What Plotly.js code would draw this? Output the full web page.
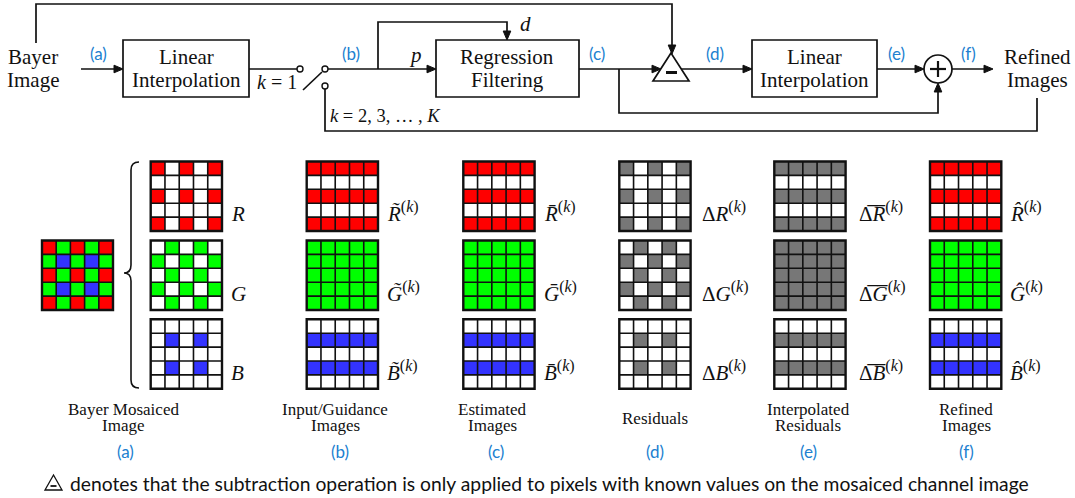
<!DOCTYPE html>
<html><head><meta charset="utf-8">
<script src="https://cdn.plot.ly/plotly-3.0.1.min.js"></script>
<style>html,body{margin:0;padding:0;background:#fff}#chart{width:1075px;height:498px}</style>
</head><body><div id="chart"></div>
<script>
// ---------- DATA ----------
// pixel patterns ('.' empty, R red, G green, B blue, X residual gray)
const mosaicPattern = ["RGRGR","GBGBG","RGRGR","GBGBG","RGRGR"];
const bayerR = ["R.R.R",".....","R.R.R",".....","R.R.R"];
const bayerG = [".G.G.","G.G.G",".G.G.","G.G.G",".G.G."];
const bayerB = [".....",".B.B.",".....",".B.B.","....."];
const inputR = ["RRRRR",".....","RRRRR",".....","RRRRR"];
const inputG = ["GGGGG","GGGGG","GGGGG","GGGGG","GGGGG"];
const inputB = [".....","BBBBB",".....","BBBBB","....."];
const estR = ["RRRRR",".....","RRRRR",".....","RRRRR"];
const estG = ["GGGGG","GGGGG","GGGGG","GGGGG","GGGGG"];
const estB = [".....","BBBBB",".....","BBBBB","....."];
const resR = ["X.X.X",".....","X.X.X",".....","X.X.X"];
const resG = [".X.X.","X.X.X",".X.X.","X.X.X",".X.X."];
const resB = [".....",".X.X.",".....",".X.X.","....."];
const intR = ["XXXXX",".....","XXXXX",".....","XXXXX"];
const intG = ["XXXXX","XXXXX","XXXXX","XXXXX","XXXXX"];
const intB = [".....","XXXXX",".....","XXXXX","....."];
const refR = ["RRRRR",".....","RRRRR",".....","RRRRR"];
const refG = ["GGGGG","GGGGG","GGGGG","GGGGG","GGGGG"];
const refB = [".....","BBBBB",".....","BBBBB","....."];
const columnPatterns = [[bayerR,bayerG,bayerB],[inputR,inputG,inputB],[estR,estG,estB],[resR,resG,resB],[intR,intG,intB],[refR,refG,refB]];

const SUPK = '<sup><span style="font-size:16px">(<i>k</i>)</span></sup>';
const labelsA = ['<i>R</i>','<i>G</i>','<i>B</i>'];
const labelsB = ['<i>R\u0303</i>','<i>G\u0303</i>','<i>B\u0303</i>'];
const labelsC = ['<i>R\u0304</i>','<i>G\u0304</i>','<i>B\u0304</i>'];
const labelsD = ['\u0394<i>R</i>','\u0394<i>G</i>','\u0394<i>B</i>'];
const labelsE = ['\u0394\u0305<i>R\u0305</i>','\u0394\u0305<i>G\u0305</i>','\u0394\u0305<i>B\u0305</i>'];
const labelsF = ['<i>R\u0302</i>','<i>G\u0302</i>','<i>B\u0302</i>'];
const columnLabels = [labelsA,labelsB,labelsC,labelsD,labelsE,labelsF];

const captionLine1 = ["Bayer Mosaiced","Input/Guidance","Estimated","Residuals","Interpolated","Refined"];
const captionLine2 = ["Image","Images","Images","","Residuals","Images"];
const stepTags = ["(a)","(b)","(c)","(d)","(e)","(f)"];

// ---------- STYLE / LAYOUT ----------
const colorOf = {'.':0,'R':1,'G':2,'B':3,'X':4};
const cscale = [[0,'#ffffff'],[0.125,'#ffffff'],[0.125,'#ff0000'],[0.375,'#ff0000'],[0.375,'#00ff00'],[0.625,'#00ff00'],[0.625,'#3333ff'],[0.875,'#3333ff'],[0.875,'#777777'],[1,'#777777']];
const colX = [150.7,306.7,463.3,619.3,774.3,930];
const rowY = [161.5,240.5,319.3];
const GW = 71.3, GH = 69.5;
const labelX = [229,385,542,700,857,1008];
const labelY = [212,292,371];
const capX = [123,335,492,655,808,966];
const tagX = [125,340,496,655,808,966];
const BLUE = '#2080d0';
const SERIF = 'Liberation Serif';
const SANS = 'Lato';

const traces = [], shapes = [], ann = [];
const LW = 1.7;

function grid(pattern, x0, y0, w, h){
  const n = pattern.length, m = pattern[0].length;
  const xs = [], ys = [];
  for(let j=0;j<m;j++) xs.push(x0+(j+0.5)*w/m);
  for(let i=0;i<n;i++) ys.push(y0+(i+0.5)*h/n);
  const z = pattern.map(r => r.split('').map(c => colorOf[c]));
  traces.push({type:'heatmap', x:xs, y:ys, z:z, zmin:0, zmax:4, colorscale:cscale, showscale:false, hoverinfo:'skip'});
  let p = '';
  for(let j=1;j<m;j++){const x=x0+j*w/m; p += `M${x},${y0} V${y0+h} `;}
  for(let i=1;i<n;i++){const y=y0+i*h/n; p += `M${x0},${y} H${x0+w} `;}
  shapes.push({type:'path', path:p, xref:'x', yref:'y', line:{color:'#111', width:1.6}, layer:'above'});
  shapes.push({type:'rect', x0:x0, x1:x0+w, y0:y0, y1:y0+h, xref:'x', yref:'y', line:{color:'#111', width:2.4}, layer:'above'});
}
grid(mosaicPattern, 42, 240.5, 71, GH);
columnPatterns.forEach((col,c) => col.forEach((pat,r) => grid(pat, colX[c], rowY[r], GW, GH)));

function txt(x,y,text,size,font,color,xa){
  ann.push({x:x,y:y,xref:'x',yref:'y',text:text,showarrow:false,xanchor:xa||'center',yanchor:'middle',
    font:{family:font,size:size,color:color||'#111'}});
}
columnLabels.forEach((labs,c)=>labs.forEach((t,r)=>txt(labelX[c], labelY[r]+(c===0?2:0), c===0?t:t+SUPK, 21, SERIF, '#111','left')));
captionLine1.forEach((t,i)=>{
  if(captionLine2[i]){ txt(capX[i],409,t,17,SERIF); txt(capX[i],425,captionLine2[i],17,SERIF); }
  else txt(capX[i],418,t,17,SERIF);
});
stepTags.forEach((t,i)=>txt(tagX[i],451,t,17,SANS,BLUE));

// brace
shapes.push({type:'path', path:'M139,162 Q131,162 131,170 L131,265 Q131,273 124,273 Q131,273 131,281 L131,380 Q131,388 139,388',
  xref:'x',yref:'y',line:{color:'#111',width:1.6},fillcolor:'rgba(0,0,0,0)'});

// ---------- FLOW DIAGRAM ----------
function path(p,w){shapes.push({type:'path',path:p,xref:'x',yref:'y',line:{color:'#111',width:w||LW},fillcolor:'rgba(0,0,0,0)'});}
function head(x,y,dir){
  const L=9,W=3.8; let p;
  if(dir==='r') p=`M${x},${y} L${x-L},${y-W} L${x-L},${y+W} Z`;
  if(dir==='d') p=`M${x},${y} L${x-W},${y-L} L${x+W},${y-L} Z`;
  if(dir==='u') p=`M${x},${y} L${x-W},${y+L} L${x+W},${y+L} Z`;
  shapes.push({type:'path',path:p,xref:'x',yref:'y',line:{color:'#111',width:1},fillcolor:'#111'});
}
function box(x0,y0,x1,y1){shapes.push({type:'rect',x0,x1,y0,y1,xref:'x',yref:'y',line:{color:'#111',width:LW}});}
function circ(cx,cy,r,w){shapes.push({type:'circle',x0:cx-r,x1:cx+r,y0:cy-r,y1:cy+r,xref:'x',yref:'y',line:{color:'#111',width:w||1.4},fillcolor:'#fff'});}

path('M36,43 V4 H672 V46'); head(672,54,'d');
path('M81,69 H116'); head(123,69,'r');
box(123,40,249,97);
path('M249,69 H297');
path('M303,90 L322,72');
path('M328,69 H429'); head(436,69,'r');
path('M378,69 V22 H507 V33'); head(507,40,'d');
box(436,40,579,97);
path('M579,69 H653'); head(661,69,'r');
path('M619,69 V113 H938 V90'); head(938,83,'u');
shapes.push({type:'path',path:'M671,53 L653,81 L689,81 Z',xref:'x',yref:'y',line:{color:'#111',width:LW},fillcolor:'#fff'});
path('M666,72.5 H677',3);
path('M681,69 H745'); head(752,69,'r');
box(752,40,877,97);
path('M877,69 H917'); head(924,69,'r');
circ(938,69,14,LW);
path('M930,69 H946',2.2); path('M938,61 V77',2.2);
path('M952,69 H986'); head(993,69,'r');
path('M1037,98 V131 H325 V89');
circ(300,69,3); circ(325,69,3); circ(325,86,3);

const FS = 21;
txt(33,57,'Bayer',FS,SERIF); txt(33,80,'Image',FS,SERIF);
txt(186,57,'Linear',FS,SERIF); txt(186,80,'Interpolation',FS,SERIF);
txt(507,57,'Regression',FS,SERIF); txt(507,80,'Filtering',FS,SERIF);
txt(814,57,'Linear',FS,SERIF); txt(814,80,'Interpolation',FS,SERIF);
txt(1037,57,'Refined',FS,SERIF); txt(1037,80,'Images',FS,SERIF);
txt(277,82,'<i>k</i> = 1',20,SERIF);
txt(385,116,'<i>k</i> = 2, 3, \u2026 , <i>K</i>',18.5,SERIF);
txt(415,55,'<i>p</i>',21,SERIF);
txt(525,24,'<i>d</i>',21,SERIF);
txt(98,53,'(a)',17,SANS,BLUE); txt(351,53,'(b)',17,SANS,BLUE); txt(597,53,'(c)',17,SANS,BLUE);
txt(715,53,'(d)',17,SANS,BLUE); txt(896,53,'(e)',17,SANS,BLUE); txt(968,53,'(f)',17,SANS,BLUE);

// footnote
shapes.push({type:'path',path:'M53.5,475 L45,490 L62,490 Z',xref:'x',yref:'y',line:{color:'#111',width:1.3},fillcolor:'#fff'});
path('M50.5,486 H56.5',1.8);
txt(68,483,'denotes that the subtraction operation is only applied to pixels with known values on the mosaiced channel image',19.3,SANS,'#111','left');

const layout = {
  width:1075, height:498, margin:{l:0,r:0,t:0,b:0}, showlegend:false,
  paper_bgcolor:'#fff', plot_bgcolor:'#fff',
  xaxis:{range:[0,1075],visible:false,fixedrange:true},
  yaxis:{range:[498,0],visible:false,fixedrange:true},
  shapes:shapes, annotations:ann
};
Plotly.newPlot('chart', traces, layout, {staticPlot:true, displayModeBar:false});
</script></body></html>
